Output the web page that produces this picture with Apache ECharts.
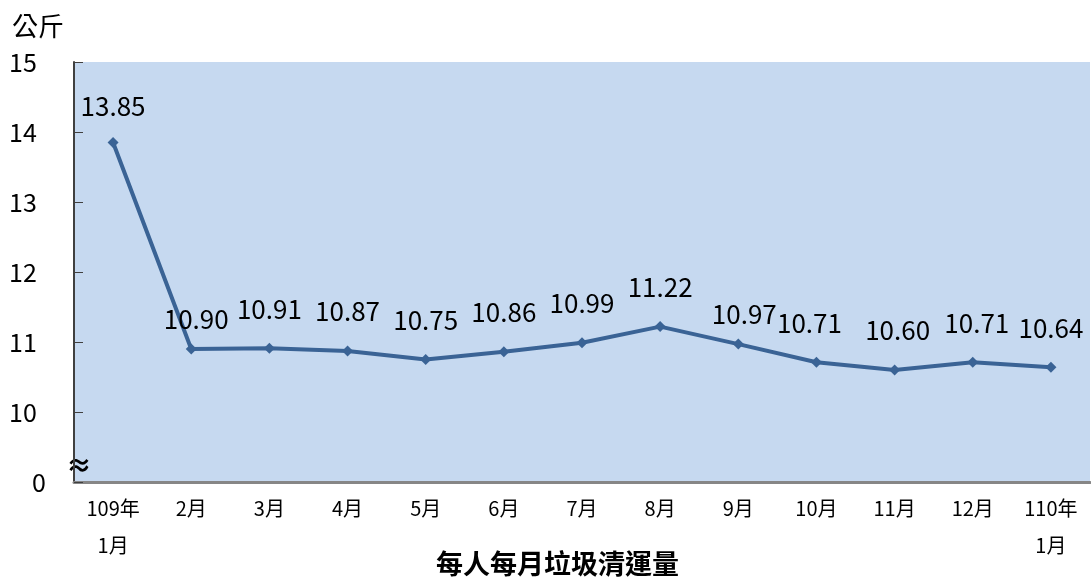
<!DOCTYPE html>
<html><head><meta charset="utf-8">
<script src="https://cdn.jsdelivr.net/npm/echarts@6/dist/echarts.min.js"></script>
<style>html,body{margin:0;padding:0;background:#fff}#c{width:1091px;height:581px}</style>
</head><body><div id="c"></div>
<script>
const categories = ["109年\n1月","2月","3月","4月","5月","6月","7月","8月","9月","10月","11月","12月","110年\n1月"];
const values = [13.85,10.90,10.91,10.87,10.75,10.86,10.99,11.22,10.97,10.71,10.60,10.71,10.64];
const yTickLabels = {9:"0",10:"10",11:"11",12:"12",13:"13",14:"14",15:"15"};
const unitLabel = "公斤";
const xTitle = "每人每月垃圾清運量";

// label nudges (style only), index -> [dx, dy]
const labelNudge = {0:[0,3],1:[5,10],8:[6,10],9:[-7,0],10:[3,0],11:[4,0]};

const FONT = '"Noto Sans CJK TC","Noto Sans",sans-serif';
const chart = echarts.init(document.getElementById('c'));
chart.setOption({
  animation:false,
  textStyle:{fontFamily:FONT},
  grid:{left:74,right:1,top:62,bottom:99,show:true,backgroundColor:'#C6D9F0',borderWidth:0},
  title:{text:unitLabel,left:7,top:8,textStyle:{fontSize:26,fontWeight:'normal',color:'#000',fontFamily:FONT}},
  graphic:[
    {type:'text',left:436,top:550,style:{text:xTitle,font:'bold 27px '+FONT,fill:'#000'}},
    {type:'text',left:66,top:452,style:{text:'≈',font:'bold 26px '+FONT,fill:'#000'}}
  ],
  xAxis:{type:'category',data:categories,boundaryGap:true,
    axisLine:{lineStyle:{color:'#868686',width:3}},
    axisTick:{inside:true,length:7,interval:0,lineStyle:{color:'#868686',width:2}},
    axisLabel:{interval:0,fontSize:20,color:'#000',lineHeight:37,margin:8,fontFamily:FONT}
  },
  yAxis:{type:'value',min:9,max:15,interval:1,
    splitLine:{show:false},
    axisLine:{show:true,lineStyle:{color:'#404040',width:2}},
    axisTick:{show:true,inside:true,length:9,lineStyle:{color:'#404040',width:1}},
    axisLabel:{fontSize:25,color:'#000',margin:65,align:'left',fontFamily:FONT,
      rich:{z:{fontSize:25,color:'#000',padding:[0,0,0,23],fontFamily:FONT}},
      formatter:v=>v===9?'{z|'+yTickLabels[v]+'}':(yTickLabels[v]!==undefined?yTickLabels[v]:'')}
  },
  series:[{type:'line',
    data:values.map((v,i)=>{
      const d={value:v};
      if(labelNudge[i]) d.label={offset:labelNudge[i]};
      return d;
    }),
    symbol:'diamond',symbolSize:11,
    lineStyle:{color:'#3A6395',width:4},itemStyle:{color:'#3A6395'},
    label:{show:true,position:'top',distance:21,fontSize:26,color:'#000',fontFamily:FONT,
      formatter:p=>p.value.toFixed(2)}
  }]
});
</script></body></html>
